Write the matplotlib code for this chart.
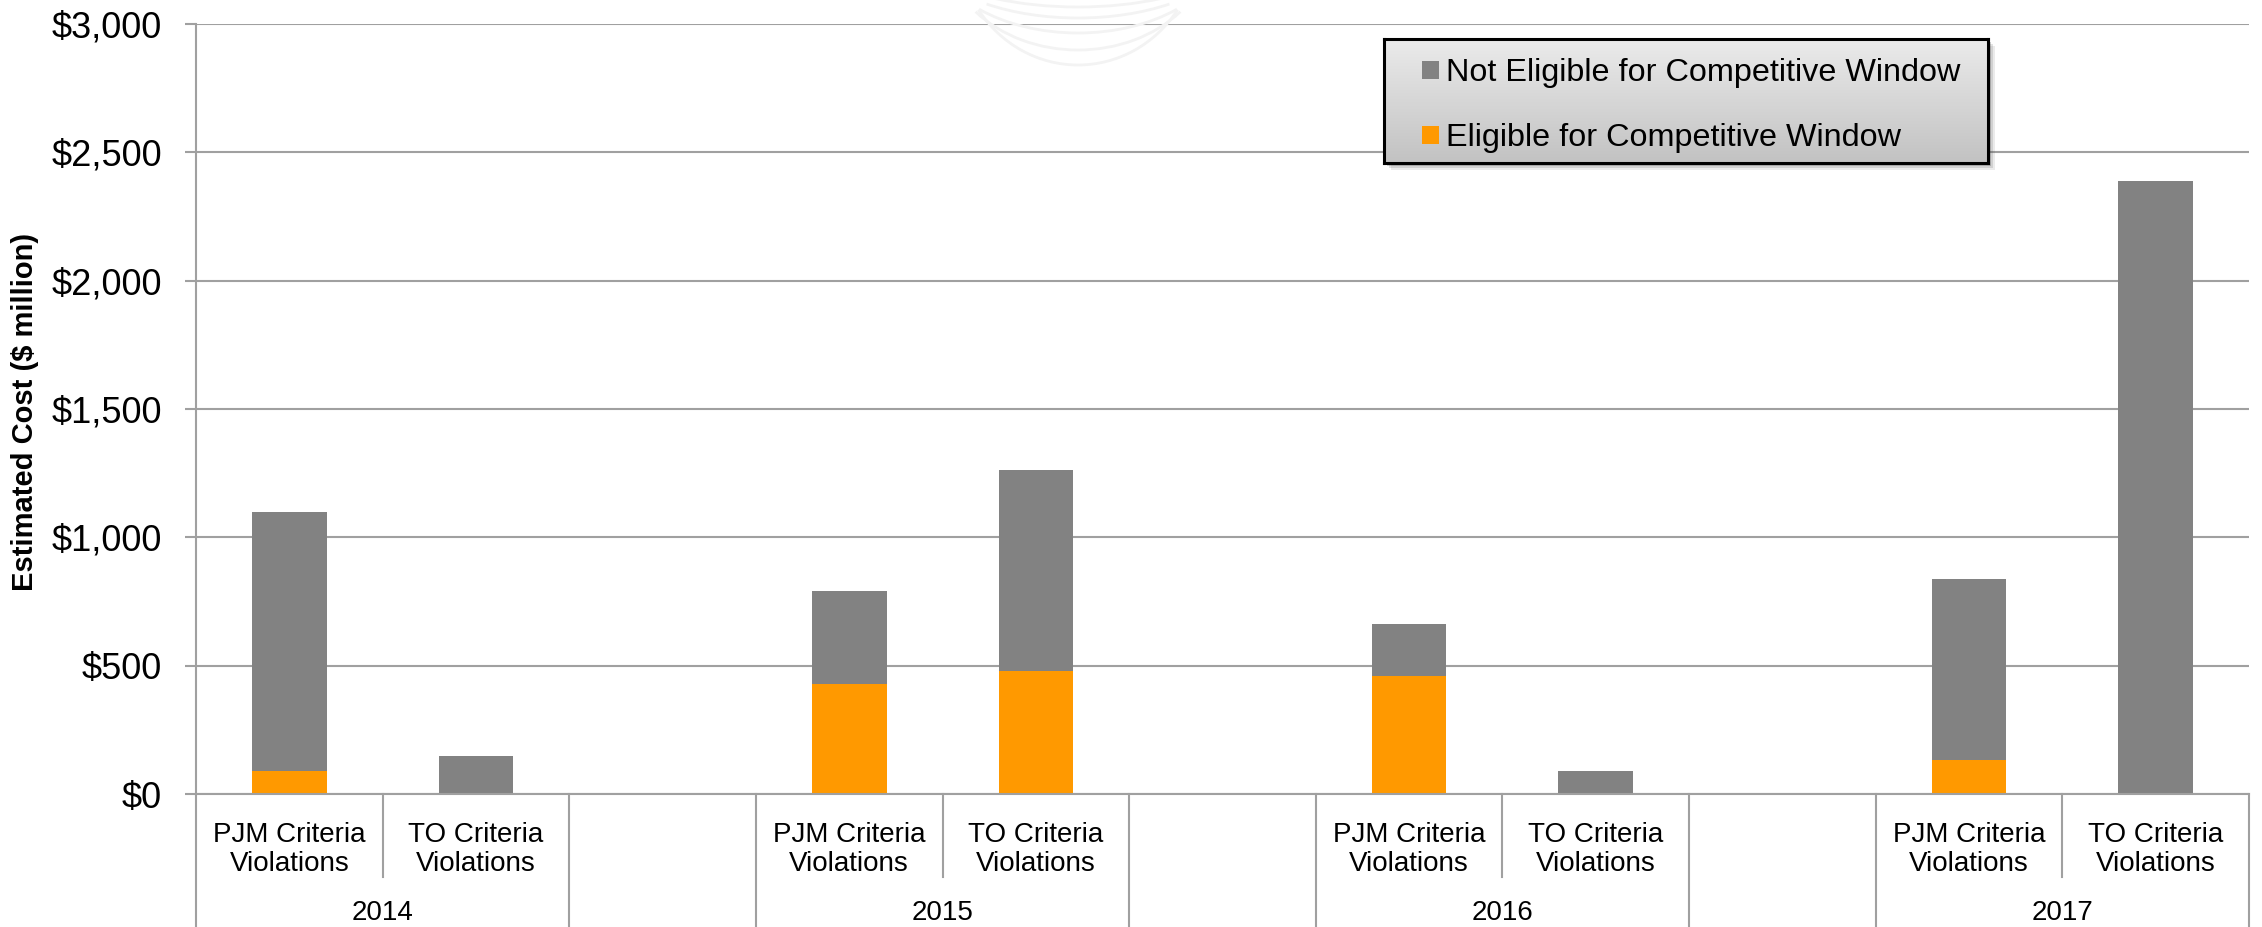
import matplotlib
matplotlib.use("Agg")
import matplotlib.pyplot as plt
import matplotlib.transforms as mtransforms
from matplotlib.patches import Rectangle, Arc
from matplotlib.colors import LinearSegmentedColormap
from matplotlib.ticker import FuncFormatter
import numpy as np

plt.rcParams["font.family"] = ["Liberation Sans", "DejaVu Sans"]

# datos ($ million)
years = ["2014", "2015", "2016", "2017"]
sub_categories = ["PJM Criteria\nViolations", "TO Criteria\nViolations"]
eligible = [90, 0, 430, 480, 458, 0, 134, 0]
not_eligible = [1009, 149, 360, 781, 203, 89, 702, 2390]
y_ticks = [0, 500, 1000, 1500, 2000, 2500, 3000]

COLOR_NOT = "#828282"
COLOR_ELIG = "#FF9900"
GRID = "#A0A0A0"

W, H = 2262, 927
fig = plt.figure(figsize=(W / 100, H / 100), dpi=100)
ax_left, ax_right, ax_bot, ax_top = 196, 2249, 794, 24
ax = fig.add_axes([ax_left / W, 1 - ax_bot / H, (ax_right - ax_left) / W, (ax_bot - ax_top) / H])
ax_h = ax_bot - ax_top

# posiciones: 2 barras por anio + hueco vacio entre anios
n_slots = len(years) * 3 - 1
x = np.array([g * 3 + s + 0.5 for g in range(len(years)) for s in range(len(sub_categories))])

ax.bar(x, eligible, width=0.4, color=COLOR_ELIG, label="Eligible for Competitive Window", zorder=2)
ax.bar(x, not_eligible, width=0.4, bottom=eligible, color=COLOR_NOT,
       label="Not Eligible for Competitive Window", zorder=2)

ax.set_xlim(0, n_slots)
ax.set_ylim(0, 3000)
ax.set_yticks(y_ticks)
ax.yaxis.set_major_formatter(FuncFormatter(lambda v, p: f"${v:,.0f}"))
ax.tick_params(axis="y", labelsize=26, length=8, width=1.5, color=GRID, pad=16.5)
ax.set_axisbelow(True)
ax.yaxis.grid(True, color=GRID, linewidth=1.5)

ax.set_xticks(x)
ax.set_xticklabels(sub_categories * len(years), fontsize=20, linespacing=1.15)
ax.tick_params(axis="x", length=0, pad=20)

for side in ["top", "right", "bottom"]:
    ax.spines[side].set_visible(False)
ax.spines["left"].set_color(GRID)
ax.spines["left"].set_linewidth(1.5)

ax.set_ylabel("Estimated Cost ($ million)", fontsize=21, fontweight="bold")
ax.yaxis.set_label_coords((25 - ax_left) / (ax_right - ax_left), (ax_bot - 411.5) / ax_h)
ax.yaxis.label.set_va("center")

# lineas de separacion del eje de categorias
trans = mtransforms.blended_transform_factory(ax.transData, ax.transAxes)
full_depth = -(H - ax_bot + 5) / ax_h
short_depth = -(877 - ax_bot) / ax_h
for b in range(n_slots + 1):
    depth = short_depth if b % 3 == 1 else full_depth
    ax.plot([b, b], [0, depth], color=GRID, lw=1.5, transform=trans, clip_on=False)
ax.plot([0, n_slots], [0, 0], color=GRID, lw=1.5, transform=trans, clip_on=False)

for g, yr in enumerate(years):
    ax.text(g * 3 + 1, -(913 - ax_bot) / ax_h, yr, transform=trans,
            ha="center", va="center", fontsize=20)

# marca de agua tenue
for a, b in zip([170, 160, 148, 135, 120], [67, 78, 93, 110, 125]):
    fig.add_artist(Arc((1078, H + 60), 2 * a, 2 * b, theta1=215, theta2=325,
                       transform=mtransforms.IdentityTransform(),
                       color="#F3F3F3", lw=2, zorder=0.5))

# caja de leyenda con degradado y sombra
lx0, lx1, ly0, ly1 = 1384, 1988, 39, 163
for off, alpha in [(7, 0.10), (5, 0.15), (3, 0.25)]:
    fig.add_artist(Rectangle(((lx0 + off) / W, 1 - (ly1 + off) / H), (lx1 - lx0) / W, (ly1 - ly0) / H,
                             transform=fig.transFigure, facecolor="#404040", edgecolor="none",
                             alpha=alpha, zorder=3))
lax = fig.add_axes([lx0 / W, 1 - ly1 / H, (lx1 - lx0) / W, (ly1 - ly0) / H], zorder=4)
grad = np.linspace(0, 1, 256).reshape(-1, 1)
cmap = LinearSegmentedColormap.from_list("leg", ["#EBEBEB", "#C2C2C2"])
lax.imshow(grad, aspect="auto", cmap=cmap, extent=[0, 1, 0, 1], origin="upper")
lax.set_xticks([])
lax.set_yticks([])
for sp in lax.spines.values():
    sp.set_color("black")
    sp.set_linewidth(2.2)

handles, labels = ax.get_legend_handles_labels()
lax.legend(handles[::-1], labels[::-1], loc="center left",
           bbox_to_anchor=((1422 - lx0) / (lx1 - lx0), 0.46),
           frameon=False, fontsize=23.3, borderpad=0, borderaxespad=0,
           handlelength=0.52, handleheight=0.52, handletextpad=0.22, labelspacing=1.08)

fig.savefig("out.png", dpi=100, facecolor="white")
plt.close(fig)
